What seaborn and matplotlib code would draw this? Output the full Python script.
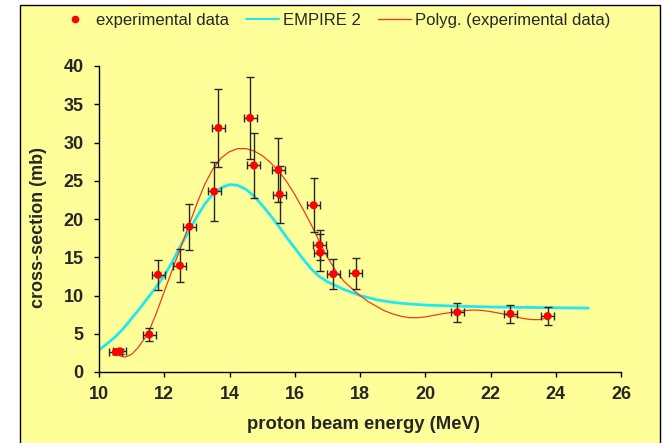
import matplotlib
matplotlib.use("Agg")
import matplotlib.pyplot as plt
from matplotlib.lines import Line2D
from matplotlib.patches import Rectangle
import seaborn as sns

# Measured cross-sections with uncertainties
energy = [10.52, 10.64, 11.54, 11.81, 12.48, 12.77, 13.53, 13.66, 14.63, 14.75,
          15.50, 15.54, 16.58, 16.76, 16.78, 17.18, 17.87, 20.98, 22.61, 23.75]
energy_err = [0.2] * 20
xs = [2.6, 2.7, 4.9, 12.7, 13.9, 19.0, 23.6, 31.9, 33.2, 27.0,
      26.4, 23.2, 21.8, 16.6, 15.6, 12.8, 12.9, 7.8, 7.6, 7.3]
xs_err = [0.3, 0.3, 0.8, 2.0, 2.2, 3.0, 3.8, 5.1, 5.3, 4.3,
          4.2, 3.7, 3.5, 2.0, 2.4, 2.0, 2.0, 1.2, 1.2, 1.2]

# EMPIRE 2 model calculation
empire_energy = [10.0, 10.25, 10.5, 10.75, 11.0, 11.25, 11.5, 11.75, 12.0, 12.25,
                 12.5, 12.75, 13.0, 13.25, 13.5, 13.75, 14.0, 14.25, 14.5, 14.75,
                 15.0, 15.25, 15.5, 15.75, 16.0, 16.25, 16.5, 16.75, 17.0, 17.5,
                 18.0, 18.5, 19.0, 19.5, 20.0, 21.0, 22.0, 23.0, 24.0, 25.0]
empire_xs = [2.9, 3.7, 4.6, 5.7, 7.0, 8.3, 9.7, 11.1, 12.6, 14.4,
             16.5, 18.4, 20.3, 22.0, 23.3, 24.1, 24.5, 24.4, 23.9, 23.0,
             21.8, 20.5, 19.1, 17.6, 16.2, 14.8, 13.5, 12.5, 11.8, 10.8,
             10.0, 9.45, 9.1, 8.9, 8.75, 8.6, 8.5, 8.45, 8.4, 8.35]

# Polynomial trend of the experimental data
polyg_energy = [10.52, 10.65, 10.8, 11.0, 11.2, 11.5, 11.75, 12.0, 12.25, 12.5,
                12.75, 13.0, 13.25, 13.5, 13.75, 14.0, 14.25, 14.5, 14.75, 15.0,
                15.25, 15.5, 15.75, 16.0, 16.25, 16.5, 16.75, 17.0, 17.25, 17.5,
                17.75, 18.0, 18.25, 18.5, 18.75, 19.0, 19.25, 19.5, 19.75, 20.0,
                20.25, 20.5, 20.75, 21.0, 21.25, 21.5, 21.75, 22.0, 22.25, 22.5,
                22.75, 23.0, 23.25, 23.5, 23.75, 23.86]
polyg_xs = [2.5, 2.1, 1.95, 2.3, 3.2, 5.0, 7.6, 10.5, 13.4, 16.2,
            19.1, 22.0, 24.6, 26.6, 28.0, 28.8, 29.2, 29.2, 28.9, 28.3,
            27.4, 26.3, 24.9, 23.2, 21.3, 19.3, 17.1, 15.0, 13.3, 11.9,
            10.9, 10.0, 9.2, 8.6, 8.0, 7.6, 7.3, 7.1, 7.1, 7.2,
            7.4, 7.6, 7.75, 7.9, 8.05, 8.1, 8.05, 7.9, 7.7, 7.5,
            7.25, 7.0, 6.85, 6.85, 7.1, 7.4]

x_ticks = [10, 12, 14, 16, 18, 20, 22, 24, 26]
y_ticks = [0, 5, 10, 15, 20, 25, 30, 35, 40]

sns.set_theme(style="ticks")
plt.rcParams["font.family"] = ["Liberation Sans", "DejaVu Sans"]

BG = "#FFFF99"
CYAN = "#20E8F0"
RED_LINE = "#F03A22"

W, H = 663, 443
fig = plt.figure(figsize=(W / 100, H / 100), dpi=100, facecolor="white")

# Yellow chart area with a thin black frame
fig.add_artist(Rectangle((19.5 / W, -0.05), (660 - 19.5) / W, 1 - 5 / H + 0.05,
                         transform=fig.transFigure, facecolor=BG,
                         edgecolor="black", linewidth=1.0, zorder=-10))

ax = fig.add_axes([99 / W, 1 - 372 / H, (621 - 99) / W, 306 / H])
ax.set_facecolor("none")

sns.lineplot(x=empire_energy, y=empire_xs, color=CYAN, linewidth=2.0,
             sort=False, estimator=None, ax=ax, zorder=2)
sns.lineplot(x=polyg_energy, y=polyg_xs, color=RED_LINE, linewidth=0.9,
             sort=False, estimator=None, ax=ax, zorder=2)
ax.errorbar(energy, xs, xerr=energy_err, yerr=xs_err, fmt="none",
            ecolor="#262626", elinewidth=1.0, capsize=3, capthick=1.0, zorder=3)
sns.scatterplot(x=energy, y=xs, color="red", s=34, edgecolor="none",
                legend=False, ax=ax, zorder=4)

ax.set_xlim(10, 26)
ax.set_ylim(0, 40)
ax.set_xticks(x_ticks)
ax.set_yticks(y_ticks)
ax.set_xticklabels([str(t) for t in x_ticks], fontweight="bold", fontsize=13)
ax.set_yticklabels([str(t) for t in y_ticks], fontweight="bold", fontsize=13)
ax.tick_params(axis="x", direction="out", length=3.5, width=1, color="black", pad=6.5)
ax.tick_params(axis="y", direction="out", length=3.5, width=1, color="black", pad=7.5)

for side in ("top", "right"):
    ax.spines[side].set_visible(False)
for side in ("left", "bottom"):
    ax.spines[side].set_color("black")
    ax.spines[side].set_linewidth(1.0)

ax.set_xlabel("proton beam energy (MeV)", fontsize=13.3, fontweight="bold")
ax.set_ylabel("cross-section (mb)", fontsize=13, fontweight="bold")
ax.xaxis.label.set_va("center")
ax.yaxis.label.set_va("center")
ax.xaxis.set_label_coords(0.5065, -0.1716)
ax.yaxis.set_label_coords(-0.116, 0.472)

handles = [
    Line2D([], [], marker="o", color="red", linestyle="none", markersize=4.5),
    Line2D([], [], color=CYAN, linewidth=1.5),
    Line2D([], [], color=RED_LINE, linewidth=1.0),
]
labels = ["experimental data", "EMPIRE 2", "Polyg. (experimental data)"]
fig.legend(handles, labels, loc="center", bbox_to_anchor=(0.5045, 0.954),
           ncol=3, frameon=False, fontsize=12, handlelength=1.95,
           handletextpad=0.25, columnspacing=1.05, borderpad=0, borderaxespad=0)

fig.savefig("out.png", dpi=100, facecolor="white")
